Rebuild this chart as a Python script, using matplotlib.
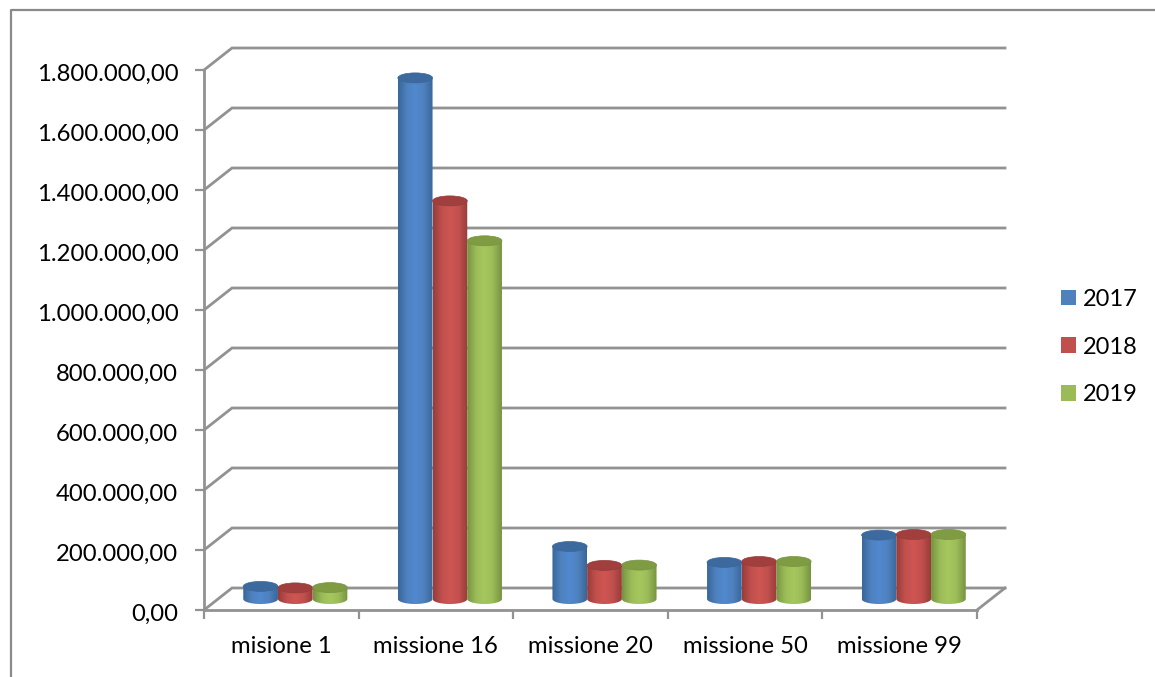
import matplotlib
matplotlib.use("Agg")
import matplotlib.pyplot as plt
import numpy as np
from matplotlib.colors import LinearSegmentedColormap
from matplotlib.lines import Line2D
from matplotlib.patches import Ellipse, PathPatch, Patch
from matplotlib.path import Path
from matplotlib.ticker import FuncFormatter
from matplotlib.transforms import ScaledTranslation

categories = ["misione 1", "missione 16", "missione 20", "missione 50", "missione 99"]
years = ["2017", "2018", "2019"]
values_2017 = [42000, 1737000, 175000, 122000, 213000]
values_2018 = [37000, 1327000, 112000, 125000, 215000]
values_2019 = [38000, 1194000, 113000, 125000, 215000]
y_ticks = [0, 200000, 400000, 600000, 800000, 1000000, 1200000, 1400000, 1600000, 1800000]

colors = ["#4f81bd", "#c0504d", "#9bbb59"]
dark_colors = ["#3a679b", "#983c3a", "#769440"]
top_colors = ["#3d6a9e", "#a03f3d", "#7f9c42"]
light_colors = ["#5089cf", "#cf5552", "#a6c75e"]

grid_col = "#929292"
text_col = "#000000"

plt.rcParams["font.family"] = ["Lato", "DejaVu Sans"]

W, H = 1155, 677
fig = plt.figure(figsize=(W / 100, H / 100), dpi=100)
ax = fig.add_axes([204 / W, (H - 610) / H, 773 / W, 540 / H])
ax.set_xlim(0, 5)
ax.set_ylim(0, 1800000)

# pseudo 3d depth, in data units
px_x = 5 / 773
px_y = 1800000 / 540
depth_x = 28 * px_x
depth_y = 22 * px_y

# outer chart frame, only top and left show
fig.add_artist(Line2D([11 / W, 11 / W, 1], [0, 1 - 10 / H, 1 - 10 / H], color="#8a8a8a", lw=1.6))

# back wall and side wall
for v in y_ticks:
    ax.plot([0, depth_x, 5 + depth_x], [v, v + depth_y, v + depth_y],
            color=grid_col, lw=2.0, clip_on=False, zorder=1, solid_joinstyle="miter")
ax.plot([5, 5 + depth_x], [0, depth_y], color=grid_col, lw=2.0, clip_on=False, zorder=1)

bar_w = 34.7 * px_x
ell_h = 10 * px_y


def cylinder(xc, value, idx, z):
    left = xc - bar_w / 2
    right = xc + bar_w / 2
    base = depth_y / 2
    top = base + value
    t = np.linspace(np.pi, 2 * np.pi, 40)
    xs = xc + bar_w / 2 * np.cos(t)
    ys = base + ell_h / 2 * np.sin(t)
    verts = np.column_stack([np.r_[left, xs, right], np.r_[top, ys, top]])
    body = PathPatch(Path(verts), fc="none", ec="none", transform=ax.transData)
    ax.add_patch(body)
    cmap = LinearSegmentedColormap.from_list(
        "c", [dark_colors[idx], colors[idx], light_colors[idx], colors[idx], dark_colors[idx]])
    im = ax.imshow(np.linspace(0, 1, 64).reshape(1, -1), cmap=cmap, aspect="auto",
                   extent=[left, right, base - ell_h, top], zorder=z, clip_on=True)
    im.set_clip_path(body)
    ax.add_patch(Ellipse((xc, top), bar_w, ell_h, fc=top_colors[idx], ec=dark_colors[idx],
                         lw=0.5, zorder=z + 0.1, clip_on=False))


series = [values_2017, values_2018, values_2019]
for c in range(len(categories)):
    for i, vals in enumerate(series):
        xc = c + 0.5 + depth_x / 2 + (i - 1) * bar_w
        cylinder(xc, vals[c], i, 3 + c + i * 0.2)

ax.set_xlim(0, 5)
ax.set_ylim(0, 1800000)
ax.patch.set_visible(False)

for s in ["top", "right"]:
    ax.spines[s].set_visible(False)
for s in ["left", "bottom"]:
    ax.spines[s].set_color(grid_col)
    ax.spines[s].set_linewidth(2.0)
    ax.spines[s].set_zorder(2)

ax.set_yticks(y_ticks)
ax.yaxis.set_major_formatter(FuncFormatter(
    lambda v, pos: f"{v:,.2f}".replace(",", "#").replace(".", ",").replace("#", ".")))
ax.set_xticks(range(6))
ax.set_xticklabels([])
ax.set_xticks(np.arange(5) + 0.5, minor=True)
ax.set_xticklabels(categories, minor=True)
ax.tick_params(axis="y", length=6.5, width=1.6, color=grid_col, pad=12, labelsize=17.2, labelcolor=text_col)
ax.tick_params(axis="x", which="major", length=6.5, width=1.6, color=grid_col)
ax.tick_params(axis="x", which="minor", length=0, pad=18.5, labelsize=17.2, labelcolor=text_col)

# y labels sit a bit below their ticks in the original
nudge = ScaledTranslation(0, -2.5 / 100, fig.dpi_scale_trans)
for label in ax.get_yticklabels():
    label.set_transform(label.get_transform() + nudge)

handles = [Patch(fc=col, ec="none") for col in colors]
fig.legend(handles, years, loc="center left", bbox_to_anchor=(1061 / W, 1 - 347 / H), frameon=False,
           fontsize=17, handlelength=0.635, handleheight=0.635, handletextpad=0.3,
           labelspacing=1.14, borderpad=0, borderaxespad=0)

fig.savefig("out.png", dpi=100)
